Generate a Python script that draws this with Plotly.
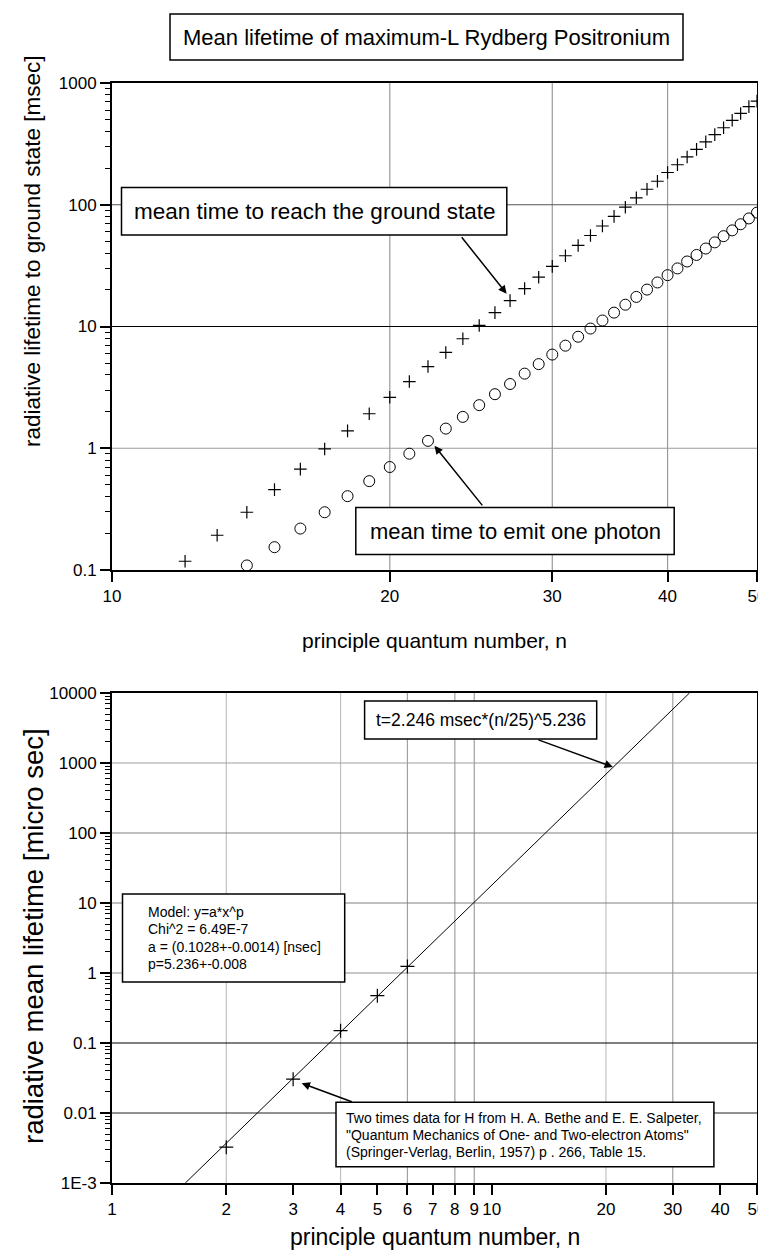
import math
import plotly.graph_objects as go

# ---------------- data ----------------
# top panel: maximum-L Rydberg positronium (msec)
n_ground = [12, 13, 14, 15, 16, 17, 18, 19, 20, 21, 22, 23, 24, 25, 26, 27, 28, 29, 30,
            31, 32, 33, 34, 35, 36, 37, 38, 39, 40, 41, 42, 43, 44, 45, 46, 47, 48, 49, 50]
t_ground = [0.118, 0.193, 0.298, 0.457, 0.674, 0.987, 1.39, 1.92, 2.62, 3.53, 4.69, 6.12,
            7.93, 10.2, 13.0, 16.3, 20.5, 25.4, 31.2, 38.1, 46.3, 55.9, 66.9, 80.2, 95.5,
            114, 134, 156, 184, 213, 247, 285, 329, 377, 429, 494, 562, 640, 710]

n_photon = [14, 15, 16, 17, 18, 19, 20, 21, 22, 23, 24, 25, 26, 27, 28, 29, 30, 31, 32,
            33, 34, 35, 36, 37, 38, 39, 40, 41, 42, 43, 44, 45, 46, 47, 48, 49, 50]
t_photon = [0.109, 0.154, 0.219, 0.298, 0.404, 0.537, 0.701, 0.902, 1.15, 1.45, 1.81,
            2.26, 2.78, 3.37, 4.10, 4.91, 5.88, 6.96, 8.24, 9.62, 11.2, 13.0, 15.1, 17.5,
            20.1, 23.0, 26.4, 30.0, 34.2, 38.7, 43.7, 49.1, 55.2, 61.6, 69.2, 77.2, 86.2]

# bottom panel: hydrogen data (micro sec) and power-law fit line end points
n_h = [2, 3, 4, 5, 6]
t_h = [0.00325, 0.0304, 0.150, 0.474, 1.24]
fit_n = [1.56, 33.2]
fit_t = [0.001, 10000]

# tick labels
top_xticks = [10, 20, 30, 40, 50]
top_yticks = [0.1, 1, 10, 100, 1000]
top_yticktext = ["0.1", "1", "10", "100", "1000"]
bot_xticks = [1, 2, 3, 4, 5, 6, 7, 8, 9, 10, 20, 30, 40, 50]
bot_yticks = [1e-3, 0.01, 0.1, 1, 10, 100, 1000, 10000]
bot_yticktext = ["1E-3", "0.01", "0.1", "1", "10", "100", "1000", "10000"]

title_text = "Mean lifetime of maximum-L Rydberg Positronium"
label_ground = "mean time to reach the ground state"
label_photon = "mean time to emit one photon"
label_fit = "t=2.246 msec*(n/25)^5.236"
model_lines = ["Model: y=a*x^p", "Chi^2 = 6.49E-7",
               "a = (0.1028+-0.0014) [nsec]", "p=5.236+-0.008"]
cite_lines = ["Two times data for H from H. A. Bethe and E. E. Salpeter,",
              "\"Quantum Mechanics of One- and Two-electron Atoms\"",
              "(Springer-Verlag, Berlin, 1957) p . 266, Table 15."]

# ---------------- layout helpers ----------------
OFF = 8                      # default page margin of the html body
W, H = 766 - OFF, 1259 - 2 * OFF
FONT = "Liberation Sans, Arial, Helvetica, sans-serif"


def px(x):                   # page pixel -> paper fraction
    return (x - OFF) / W


def py(y):
    return 1 - (y - OFF) / H


L, R = 112, 757
T1, B1 = 83, 570
T2, B2 = 693, 1183

fig = go.Figure()

fig.add_trace(go.Scatter(x=n_ground, y=t_ground, mode="markers", xaxis="x", yaxis="y",
                         marker=dict(symbol="cross-thin-open", size=9, color="black",
                                     line=dict(color="black", width=1.2)),
                         name="ground"))
fig.add_trace(go.Scatter(x=n_photon, y=t_photon, mode="markers", xaxis="x", yaxis="y",
                         marker=dict(symbol="circle-open", size=11, color="black",
                                     line=dict(color="black", width=1)),
                         name="photon"))
fig.add_trace(go.Scatter(x=fit_n, y=fit_t, mode="lines", xaxis="x2", yaxis="y2",
                         line=dict(color="black", width=1), name="fit"))
fig.add_trace(go.Scatter(x=n_h, y=t_h, mode="markers", xaxis="x2", yaxis="y2",
                         marker=dict(symbol="cross-thin-open", size=10, color="black",
                                     line=dict(color="black", width=1.2)),
                         name="H"))


def minor_vals(e0, e1):
    return [k * 10 ** e for e in range(e0, e1) for k in range(2, 10)]


axis_common = dict(type="log", showline=True, linecolor="black", linewidth=2,
                   mirror=True, ticks="outside", ticklen=10, tickwidth=1.5,
                   tickcolor="black", showgrid=False, zeroline=False,
                   automargin=False, ticklabeloverflow="allow",
                   tickfont=dict(family=FONT, size=17, color="black"))

fig.update_layout(
    width=W, height=H, margin=dict(l=0, r=0, t=0, b=0, autoexpand=False),
    paper_bgcolor="white", plot_bgcolor="white", showlegend=False,
    font=dict(family=FONT, color="black"),
    xaxis=dict(axis_common, domain=[px(L), px(R)], anchor="y",
               range=[1, math.log10(50)], tickmode="array",
               tickvals=top_xticks, ticktext=[str(v) for v in top_xticks]),
    yaxis=dict(axis_common, domain=[py(B1), py(T1)], anchor="x",
               range=[-1, 3], tickmode="array", tickvals=top_yticks,
               ticktext=top_yticktext,
               minor=dict(ticks="outside", ticklen=5, tickwidth=1, tickcolor="black",
                          tickvals=minor_vals(-1, 3), showgrid=False)),
    xaxis2=dict(axis_common, domain=[px(L), px(R)], anchor="y2",
                range=[0, math.log10(50)], tickmode="array",
                tickvals=bot_xticks, ticktext=[str(v) for v in bot_xticks]),
    yaxis2=dict(axis_common, domain=[py(B2), py(T2)], anchor="x2",
                range=[-3, 4], tickmode="array", tickvals=bot_yticks,
                ticktext=bot_yticktext,
                minor=dict(ticks="outside", ticklen=5, tickwidth=1, tickcolor="black",
                           tickvals=minor_vals(-3, 4), showgrid=False)),
)

shapes = []
# grid lines (drawn as shapes so each can have its own shade)
top_vgrid = [(20, "#9a9a9a"), (30, "#9a9a9a"), (40, "#9a9a9a")]
top_hgrid = [(100, "#555555"), (10, "#000000"), (1, "#9a9a9a")]
bot_vgrid = [(2, "#c0c0c0"), (4, "#c0c0c0"), (6, "#a0a0a0"), (8, "#a0a0a0"),
             (9, "#a0a0a0"), (20, "#c0c0c0"), (30, "#a0a0a0")]
bot_hgrid = [(1000, "#a0a0a0"), (100, "#808080"), (10, "#808080"), (1, "#909090"),
             (0.1, "#000000"), (0.01, "#222222")]
for v, c in top_vgrid:
    shapes.append(dict(type="line", xref="x", yref="y domain", x0=v, x1=v,
                       y0=0, y1=1, layer="below", line=dict(color=c, width=1.2)))
for v, c in top_hgrid:
    shapes.append(dict(type="line", xref="x domain", yref="y", y0=v, y1=v,
                       x0=0, x1=1, layer="below", line=dict(color=c, width=1.2)))
for v, c in bot_vgrid:
    shapes.append(dict(type="line", xref="x2", yref="y2 domain", x0=v, x1=v,
                       y0=0, y1=1, layer="below", line=dict(color=c, width=1.2)))
for v, c in bot_hgrid:
    shapes.append(dict(type="line", xref="x2 domain", yref="y2", y0=v, y1=v,
                       x0=0, x1=1, layer="below", line=dict(color=c, width=1.2)))

# boxes (page pixel positions)
boxes = [(170, 14, 683, 60), (121.5, 187.5, 506.8, 235), (355.8, 507.4, 674.2, 554.6),
         (364.6, 701, 596.7, 739), (122.5, 894, 344.7, 982), (336, 1102.3, 713.9, 1166.7)]
for x0, y0, x1, y1 in boxes:
    shapes.append(dict(type="rect", xref="paper", yref="paper", x0=px(x0), x1=px(x1),
                       y0=py(y1), y1=py(y0), layer="above", fillcolor="white",
                       line=dict(color="black", width=1.5)))
fig.update_layout(shapes=shapes)

ann = []


def text(x, y, s, size, xanchor="center", angle=0):
    ann.append(dict(xref="paper", yref="paper", x=px(x), y=py(y), text=s,
                    showarrow=False, xanchor=xanchor, yanchor="middle",
                    textangle=angle, font=dict(family=FONT, size=size, color="black")))


text(426.5, 37, title_text, 22)
text(314, 211, label_ground, 22.5)
text(515, 531, label_photon, 22)
text(480.6, 720, label_fit, 17.5)
for i, s in enumerate(model_lines):
    text(145.5, 912 + i * 17.3, s, 14, xanchor="left")
for i, s in enumerate(cite_lines):
    text(343.8, 1118.3 + i * 16.7, s, 14, xanchor="left")

text((L + R) / 2, 640, "principle quantum number, n", 21)
text((L + R) / 2, 1237, "principle quantum number, n", 23)
text(33, 252, "radiative lifetime to ground state [msec]", 22.5, angle=-90)
text(33, 936, "radiative mean lifetime [micro sec]", 27.5, angle=-90)


def arrow(xr, yr, tail, tip):
    ann.append(dict(xref=xr, yref=yr, axref=xr, ayref=yr,
                    x=math.log10(tip[0]), y=math.log10(tip[1]),
                    ax=math.log10(tail[0]), ay=math.log10(tail[1]),
                    text="", showarrow=True, arrowhead=2, arrowsize=1.1,
                    arrowwidth=1.5, arrowcolor="black", standoff=0, startstandoff=0))


arrow("x", "y", (23.86, 55.6), (26.77, 18.6))
arrow("x", "y", (25.27, 0.330), (22.36, 1.047))
arrow("x2", "y2", (13.16, 2181), (20.86, 877))
arrow("x2", "y2", (4.32, 0.01422), (3.16, 0.02655))

fig.update_layout(annotations=ann)
fig.write_html("out.html")
